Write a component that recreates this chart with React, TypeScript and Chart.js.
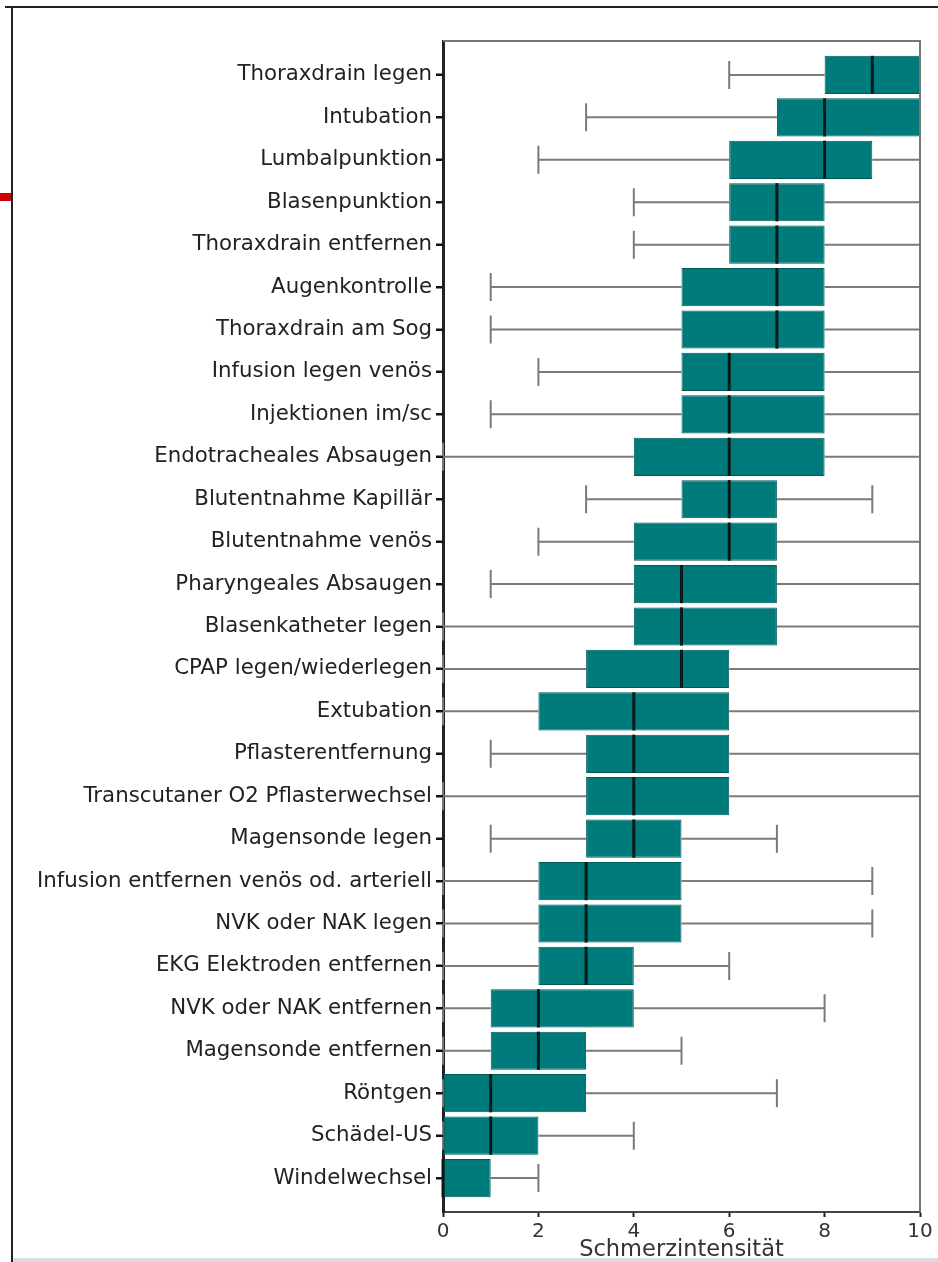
import React, { useEffect, useRef } from "react";
import { Chart, registerables } from "chart.js";

Chart.register(...registerables);

const categories = [
  "Thoraxdrain legen",
  "Intubation",
  "Lumbalpunktion",
  "Blasenpunktion",
  "Thoraxdrain entfernen",
  "Augenkontrolle",
  "Thoraxdrain am Sog",
  "Infusion legen venös",
  "Injektionen im/sc",
  "Endotracheales Absaugen",
  "Blutentnahme Kapillär",
  "Blutentnahme venös",
  "Pharyngeales Absaugen",
  "Blasenkatheter legen",
  "CPAP legen/wiederlegen",
  "Extubation",
  "Pflasterentfernung",
  "Transcutaner O2 Pflasterwechsel",
  "Magensonde legen",
  "Infusion entfernen venös od. arteriell",
  "NVK oder NAK legen",
  "EKG Elektroden entfernen",
  "NVK oder NAK entfernen",
  "Magensonde entfernen",
  "Röntgen",
  "Schädel-US",
  "Windelwechsel",
];

const whiskerMin = [6, 3, 2, 4, 4, 1, 1, 2, 1, 0, 3, 2, 1, 0, 0, 0, 1, 0, 1, 0, 0, 0, 0, 0, 0, 0, 0];
const quartile1 = [8, 7, 6, 6, 6, 5, 5, 5, 5, 4, 5, 4, 4, 4, 3, 2, 3, 3, 3, 2, 2, 2, 1, 1, 0, 0, 0];
const medians = [9, 8, 8, 7, 7, 7, 7, 6, 6, 6, 6, 6, 5, 5, 5, 4, 4, 4, 4, 3, 3, 3, 2, 2, 1, 1, 0];
const quartile3 = [10, 10, 9, 8, 8, 8, 8, 8, 8, 8, 7, 7, 7, 7, 6, 6, 6, 6, 5, 5, 5, 4, 4, 3, 3, 2, 1];
const whiskerMax = [10, 10, 10, 10, 10, 10, 10, 10, 10, 10, 9, 10, 10, 10, 10, 10, 10, 10, 7, 9, 9, 6, 8, 5, 7, 4, 2];

const xTicks = [0, 2, 4, 6, 8, 10];
const xTitle = "Schmerzintensität";

export default function App() {
  const ref = useRef<HTMLCanvasElement | null>(null);

  useEffect(() => {
    const canvas = ref.current;
    if (!canvas) return;

    const decor = {
      id: "decor",
      beforeDraw(chart: any) {
        const { ctx } = chart;
        ctx.save();
        ctx.fillStyle = "#ffffff";
        ctx.fillRect(0, 0, chart.width, chart.height);
        ctx.strokeStyle = "#222";
        ctx.lineWidth = 2;
        ctx.beginPath();
        ctx.moveTo(5, 7);
        ctx.lineTo(chart.width, 7);
        ctx.moveTo(12, 7);
        ctx.lineTo(12, chart.height);
        ctx.stroke();
        ctx.fillStyle = "#cc0000";
        ctx.fillRect(0, 193, 11, 8);
        ctx.fillStyle = "#dcdcdc";
        ctx.fillRect(13, chart.height - 4, chart.width, 4);
        ctx.restore();
      },
      afterDraw(chart: any) {
        const { ctx, chartArea } = chart;
        const y = chart.scales.y;
        ctx.save();
        ctx.strokeStyle = "#777";
        ctx.lineWidth = 2;
        ctx.beginPath();
        ctx.moveTo(chartArea.left, chartArea.top);
        ctx.lineTo(chartArea.right, chartArea.top);
        ctx.lineTo(chartArea.right, chartArea.bottom);
        ctx.stroke();
        ctx.strokeStyle = "#111";
        ctx.lineWidth = 2;
        ctx.beginPath();
        categories.forEach((_, i) => {
          const yc = Math.round(y.getPixelForValue(i));
          ctx.moveTo(chartArea.left - 7, yc);
          ctx.lineTo(chartArea.left, yc);
        });
        ctx.stroke();
        ctx.restore();
      },
    };

    const boxParts = {
      id: "boxParts",
      beforeDatasetsDraw(chart: any) {
        const { ctx } = chart;
        const x = chart.scales.x;
        const y = chart.scales.y;
        const step = Math.abs(y.getPixelForValue(1) - y.getPixelForValue(0));
        const capHalf = step * 0.33;
        ctx.save();
        ctx.strokeStyle = "#7a7a7a";
        ctx.lineWidth = 2;
        categories.forEach((_, i) => {
          const yc = y.getPixelForValue(i);
          const xMin = x.getPixelForValue(whiskerMin[i]);
          const xQ1 = x.getPixelForValue(quartile1[i]);
          const xQ3 = x.getPixelForValue(quartile3[i]);
          const xMax = x.getPixelForValue(whiskerMax[i]);
          ctx.beginPath();
          ctx.moveTo(xMin, yc);
          ctx.lineTo(xQ1, yc);
          ctx.moveTo(xQ3, yc);
          ctx.lineTo(xMax, yc);
          ctx.moveTo(xMin, yc - capHalf);
          ctx.lineTo(xMin, yc + capHalf);
          ctx.moveTo(xMax, yc - capHalf);
          ctx.lineTo(xMax, yc + capHalf);
          ctx.stroke();
        });
        ctx.restore();
      },
      afterDatasetsDraw(chart: any) {
        const { ctx } = chart;
        const x = chart.scales.x;
        const y = chart.scales.y;
        const step = Math.abs(y.getPixelForValue(1) - y.getPixelForValue(0));
        const half = step * 0.45;
        ctx.save();
        ctx.strokeStyle = "#0a1a1a";
        ctx.lineWidth = 3;
        categories.forEach((_, i) => {
          const yc = y.getPixelForValue(i);
          const xm = x.getPixelForValue(medians[i]);
          ctx.beginPath();
          ctx.moveTo(xm, yc - half);
          ctx.lineTo(xm, yc + half);
          ctx.stroke();
        });
        ctx.restore();
      },
    };

    const chart = new Chart(canvas, {
      type: "bar",
      data: {
        datasets: [
          {
            data: categories.map((_, i) => ({ x: [quartile1[i], quartile3[i]], y: i })) as any,
            backgroundColor: "#007b7b",
            borderColor: "#005a5a",
            borderWidth: 1,
            borderSkipped: false,
            barPercentage: 0.9,
            categoryPercentage: 1,
          },
        ],
      },
      options: {
        indexAxis: "y",
        responsive: false,
        animation: false,
        devicePixelRatio: 1,
        layout: { padding: { left: 0, right: 18, top: 41, bottom: 0 } },
        plugins: { legend: { display: false }, tooltip: { enabled: false } },
        scales: {
          x: {
            type: "linear",
            min: 0,
            max: 10,
            offset: false,
            afterBuildTicks: (axis: any) => {
              axis.ticks = xTicks.map((v) => ({ value: v }));
            },
            ticks: {
              font: { family: "'DejaVu Sans', sans-serif", size: 20 },
              color: "#333",
              padding: 3,
            },
            grid: { drawOnChartArea: false, offset: false, tickLength: 5, tickWidth: 2, color: "#222" },
            border: { color: "#444", width: 2 },
            title: {
              display: true,
              text: xTitle,
              font: { family: "'DejaVu Sans', sans-serif", size: 22.5 },
              color: "#333",
              padding: { top: 0, bottom: -2 },
            },
            afterFit: (s: any) => {
              s.height = 50;
            },
          },
          y: {
            type: "linear",
            reverse: true,
            min: -0.8,
            max: 26.8,
            offset: false,
            afterBuildTicks: (axis: any) => {
              axis.ticks = categories.map((_, i) => ({ value: i }));
            },
            ticks: {
              autoSkip: false,
              callback: (v: any) => categories[v as number] ?? "",
              font: { family: "'DejaVu Sans', sans-serif", size: 21.3 },
              color: "#222",
              padding: 4,
            },
            grid: { drawOnChartArea: false, offset: false, tickLength: 7, tickWidth: 2, color: "#111" },
            border: { color: "#222", width: 3 },
            afterFit: (s: any) => {
              s.width = 443;
            },
          },
        },
      } as any,
      plugins: [decor, boxParts],
    });

    return () => chart.destroy();
  }, []);

  return (
    <div style={{ position: "fixed", left: 0, top: 0, width: 938, height: 1262 }}>
      <canvas ref={ref} width={938} height={1262} style={{ display: "block" }} />
    </div>
  );
}
